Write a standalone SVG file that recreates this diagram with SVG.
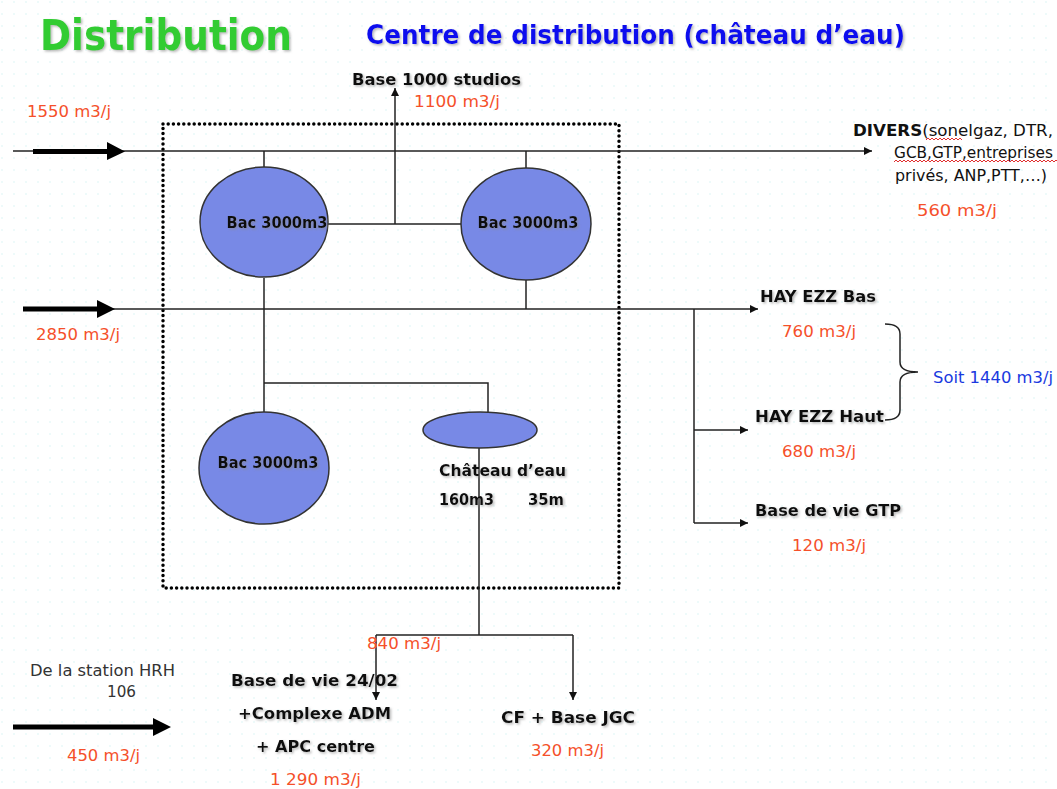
<svg xmlns="http://www.w3.org/2000/svg" width="1057" height="789" viewBox="0 0 1057 789">
<defs>
<style>
.t{font-family:"DejaVu Sans","Liberation Sans",sans-serif;}
.b{font-weight:bold;fill:#111;font-size:16px;}
.r{fill:#f5502a;font-size:16.5px;}
.n{fill:#333;font-size:15.5px;}
.ln{stroke:#222;stroke-width:1.5;fill:none;}
.tank{fill:#7889e6;stroke:#333;stroke-width:1.5;}
.thick{fill:#000;}
.sq{stroke:#e03030;stroke-width:1;fill:none;}
</style>
<marker id="ah" viewBox="0 0 10 10" refX="10" refY="5" markerWidth="8" markerHeight="8" markerUnits="userSpaceOnUse" orient="auto">
<path d="M0,0 L10,5 L0,10 z" fill="#111"/>
</marker>
<filter id="sh" x="-5%" y="-20%" width="110%" height="150%">
<feDropShadow dx="1.5" dy="1.5" stdDeviation="1" flood-color="#888" flood-opacity="0.6"/>
</filter>
<pattern id="dots" width="12" height="12" patternUnits="userSpaceOnUse">
<circle cx="2" cy="2" r="0.8" fill="#d8f4f4"/>
</pattern>
</defs>
<rect width="1057" height="789" fill="#ffffff"/>
<rect width="1057" height="789" fill="url(#dots)"/>

<g id="titles" class="t">
<text x="40" y="50" font-size="42" font-weight="bold" fill="#33cc33" textLength="252" lengthAdjust="spacingAndGlyphs" filter="url(#sh)">Distribution</text>
<text x="366" y="44" font-size="26" font-weight="bold" fill="#1010ee" textLength="539" lengthAdjust="spacingAndGlyphs" filter="url(#sh)">Centre de distribution (château d’eau)</text>
</g>

<g id="boundary">
<rect x="163" y="124" width="456" height="464" fill="none" stroke="#000" stroke-width="3.5" stroke-dasharray="0 5.2" stroke-linecap="round"/>
</g>

<g id="connectors">
<line class="ln" x1="13" y1="151" x2="872" y2="151" marker-end="url(#ah)"/>
<path class="thick" d="M33,149 L107,149 L107,142 L125,151.5 L107,160 L107,154 L33,154 z"/>
<line class="ln" x1="23" y1="309" x2="758" y2="309" marker-end="url(#ah)"/>
<path class="thick" d="M23,306.5 L97,306.5 L97,300 L115,309 L97,318 L97,311.5 L23,311.5 z"/>
<line class="ln" x1="264" y1="151" x2="264" y2="167"/>
<line class="ln" x1="526" y1="151" x2="526" y2="168"/>
<line class="ln" x1="328" y1="224" x2="461" y2="224"/>
<line class="ln" x1="395" y1="224" x2="395" y2="88" marker-end="url(#ah)"/>
<line class="ln" x1="264" y1="278" x2="264" y2="412"/>
<line class="ln" x1="526" y1="280" x2="526" y2="309"/>
<polyline class="ln" points="264,383 488,383 488,412"/>
<line class="ln" x1="694" y1="309" x2="694" y2="523"/>
<line class="ln" x1="694" y1="430" x2="748" y2="430" marker-end="url(#ah)"/>
<line class="ln" x1="694" y1="523" x2="748" y2="523" marker-end="url(#ah)"/>
<line class="ln" x1="479" y1="448" x2="479" y2="635"/>
<line class="ln" x1="376" y1="635" x2="573" y2="635"/>
<line class="ln" x1="376" y1="635" x2="376" y2="700" marker-end="url(#ah)"/>
<line class="ln" x1="573" y1="635" x2="573" y2="700" marker-end="url(#ah)"/>
<path class="thick" d="M13,724.5 L153,724.5 L153,718 L171,727 L153,736 L153,729.5 L13,729.5 z"/>
<path class="ln" stroke-width="1.3" d="M885,324 Q900,324 900,334 L900,362 Q900,372 918,372 Q900,372 900,382 L900,410 Q900,420 885,420"/>
</g>

<g id="bac1">
<ellipse class="tank" cx="264" cy="222" rx="64" ry="55"/>
<text class="t b" x="277" y="228" text-anchor="middle" textLength="101" lengthAdjust="spacingAndGlyphs" filter="url(#sh)">Bac 3000m3</text>
</g>
<g id="bac2">
<ellipse class="tank" cx="526" cy="224" rx="65" ry="56"/>
<text class="t b" x="528" y="228" text-anchor="middle" textLength="101" lengthAdjust="spacingAndGlyphs" filter="url(#sh)">Bac 3000m3</text>
</g>
<g id="bac3">
<ellipse class="tank" cx="264" cy="468" rx="65" ry="56"/>
<text class="t b" x="268" y="468" text-anchor="middle" textLength="101" lengthAdjust="spacingAndGlyphs" filter="url(#sh)">Bac 3000m3</text>
</g>
<g id="chateau">
<ellipse class="tank" cx="480" cy="430" rx="57" ry="18"/>
<text class="t b" x="439" y="476" textLength="127" lengthAdjust="spacingAndGlyphs" filter="url(#sh)">Château d’eau</text>
<text class="t b" x="439" y="505" textLength="55" lengthAdjust="spacingAndGlyphs" filter="url(#sh)">160m3</text>
<text class="t b" x="528" y="505" textLength="36" lengthAdjust="spacingAndGlyphs" filter="url(#sh)">35m</text>
</g>

<g id="studios" class="t">
<text class="b" x="352" y="85" textLength="169" lengthAdjust="spacingAndGlyphs" filter="url(#sh)">Base 1000 studios</text>
<text class="r" x="414" y="107" textLength="86" lengthAdjust="spacingAndGlyphs">1100 m3/j</text>
</g>

<g id="input1" class="t">
<text class="r" x="27" y="117" textLength="84" lengthAdjust="spacingAndGlyphs">1550 m3/j</text>
</g>
<g id="input2" class="t">
<text class="r" x="36" y="340" textLength="84" lengthAdjust="spacingAndGlyphs">2850 m3/j</text>
</g>

<g id="divers" class="t">
<text x="853" y="136" font-size="15.5" fill="#111" textLength="200" lengthAdjust="spacingAndGlyphs"><tspan font-weight="bold">DIVERS</tspan>(sonelgaz,  DTR,</text>
<text x="1053" y="158" font-size="15.5" fill="#111" text-anchor="end" textLength="159" lengthAdjust="spacingAndGlyphs">GCB,GTP,entreprises</text>
<text x="1047" y="181" font-size="15.5" fill="#111" text-anchor="end" textLength="152" lengthAdjust="spacingAndGlyphs">privés, ANP,PTT,…)</text>
<path class="sq" d="M926,140 l2,-2 l2,2 l2,-2 l2,2 l2,-2 l2,2 l2,-2 l2,2 l2,-2 l2,2 l2,-2 l2,2 l2,-2 l2,2 l2,-2 l2,2 l2,-2 l2,2"/>
<path class="sq" d="M894,162 l2,-2 l2,2 l2,-2 l2,2 l2,-2 l2,2 l2,-2 l2,2 l2,-2 l2,2 l2,-2 l2,2 l2,-2 l2,2 l2,-2 l2,2 l2,-2 l2,2 l2,-2 l2,2 l2,-2 l2,2 l2,-2 l2,2 l2,-2 l2,2 l2,-2 l2,2 l2,-2 l2,2 l2,-2 l2,2 l2,-2 l2,2 l2,-2 l2,2 l2,-2 l2,2 l2,-2 l2,2 l2,-2 l2,2 l2,-2 l2,2 l2,-2 l2,2 l2,-2 l2,2 l2,-2 l2,2 l2,-2 l2,2 l2,-2 l2,2 l2,-2 l2,2 l2,-2 l2,2 l2,-2 l2,2 l2,-2 l2,2 l2,-2 l2,2 l2,-2 l2,2 l2,-2 l2,2 l2,-2 l2,2 l2,-2 l2,2 l2,-2 l2,2 l2,-2 l2,2 l2,-2 l2,2 l2,-2 l2,2 l2,-2 l2,2 l2,-2 l2,2 l2,-2 l2,2"/>
<text class="r" x="917" y="216" textLength="80" lengthAdjust="spacingAndGlyphs">560 m3/j</text>
</g>

<g id="hay-bas" class="t">
<text class="b" x="760" y="302" textLength="116" lengthAdjust="spacingAndGlyphs" filter="url(#sh)">HAY EZZ Bas</text>
<text class="r" x="782" y="337" textLength="74" lengthAdjust="spacingAndGlyphs">760 m3/j</text>
</g>
<g id="hay-haut" class="t">
<text class="b" x="755" y="422" textLength="129" lengthAdjust="spacingAndGlyphs" filter="url(#sh)">HAY EZZ Haut</text>
<text class="r" x="782" y="457" textLength="74" lengthAdjust="spacingAndGlyphs">680 m3/j</text>
</g>
<g id="soit" class="t">
<text x="933" y="383" font-size="15.5" fill="#1a3ae0" textLength="120" lengthAdjust="spacingAndGlyphs">Soit 1440 m3/j</text>
</g>
<g id="gtp" class="t">
<text class="b" x="755" y="516" textLength="146" lengthAdjust="spacingAndGlyphs" filter="url(#sh)">Base de vie GTP</text>
<text class="r" x="792" y="551" textLength="74" lengthAdjust="spacingAndGlyphs">120 m3/j</text>
</g>

<g id="split840" class="t">
<text class="r" x="367" y="649" textLength="74" lengthAdjust="spacingAndGlyphs">840 m3/j</text>
</g>

<g id="hrh" class="t">
<text class="n" x="30" y="676" textLength="145" lengthAdjust="spacingAndGlyphs">De la station HRH</text>
<text class="n" x="107" y="697" textLength="29" lengthAdjust="spacingAndGlyphs">106</text>
<text class="r" x="67" y="761" textLength="73" lengthAdjust="spacingAndGlyphs">450 m3/j</text>
</g>

<g id="base2402" class="t">
<text class="b" x="231" y="686" textLength="167" lengthAdjust="spacingAndGlyphs" filter="url(#sh)">Base de vie 24/02</text>
<text class="b" x="238" y="719" textLength="153" lengthAdjust="spacingAndGlyphs" filter="url(#sh)">+Complexe  ADM</text>
<text class="b" x="256" y="752" textLength="119" lengthAdjust="spacingAndGlyphs" filter="url(#sh)">+ APC centre</text>
<text class="r" x="270" y="785" textLength="91" lengthAdjust="spacingAndGlyphs">1 290 m3/j</text>
</g>

<g id="jgc" class="t">
<text class="b" x="501" y="723" textLength="134" lengthAdjust="spacingAndGlyphs" filter="url(#sh)">CF + Base JGC</text>
<text class="r" x="531" y="756" textLength="73" lengthAdjust="spacingAndGlyphs">320 m3/j</text>
</g>
</svg>
